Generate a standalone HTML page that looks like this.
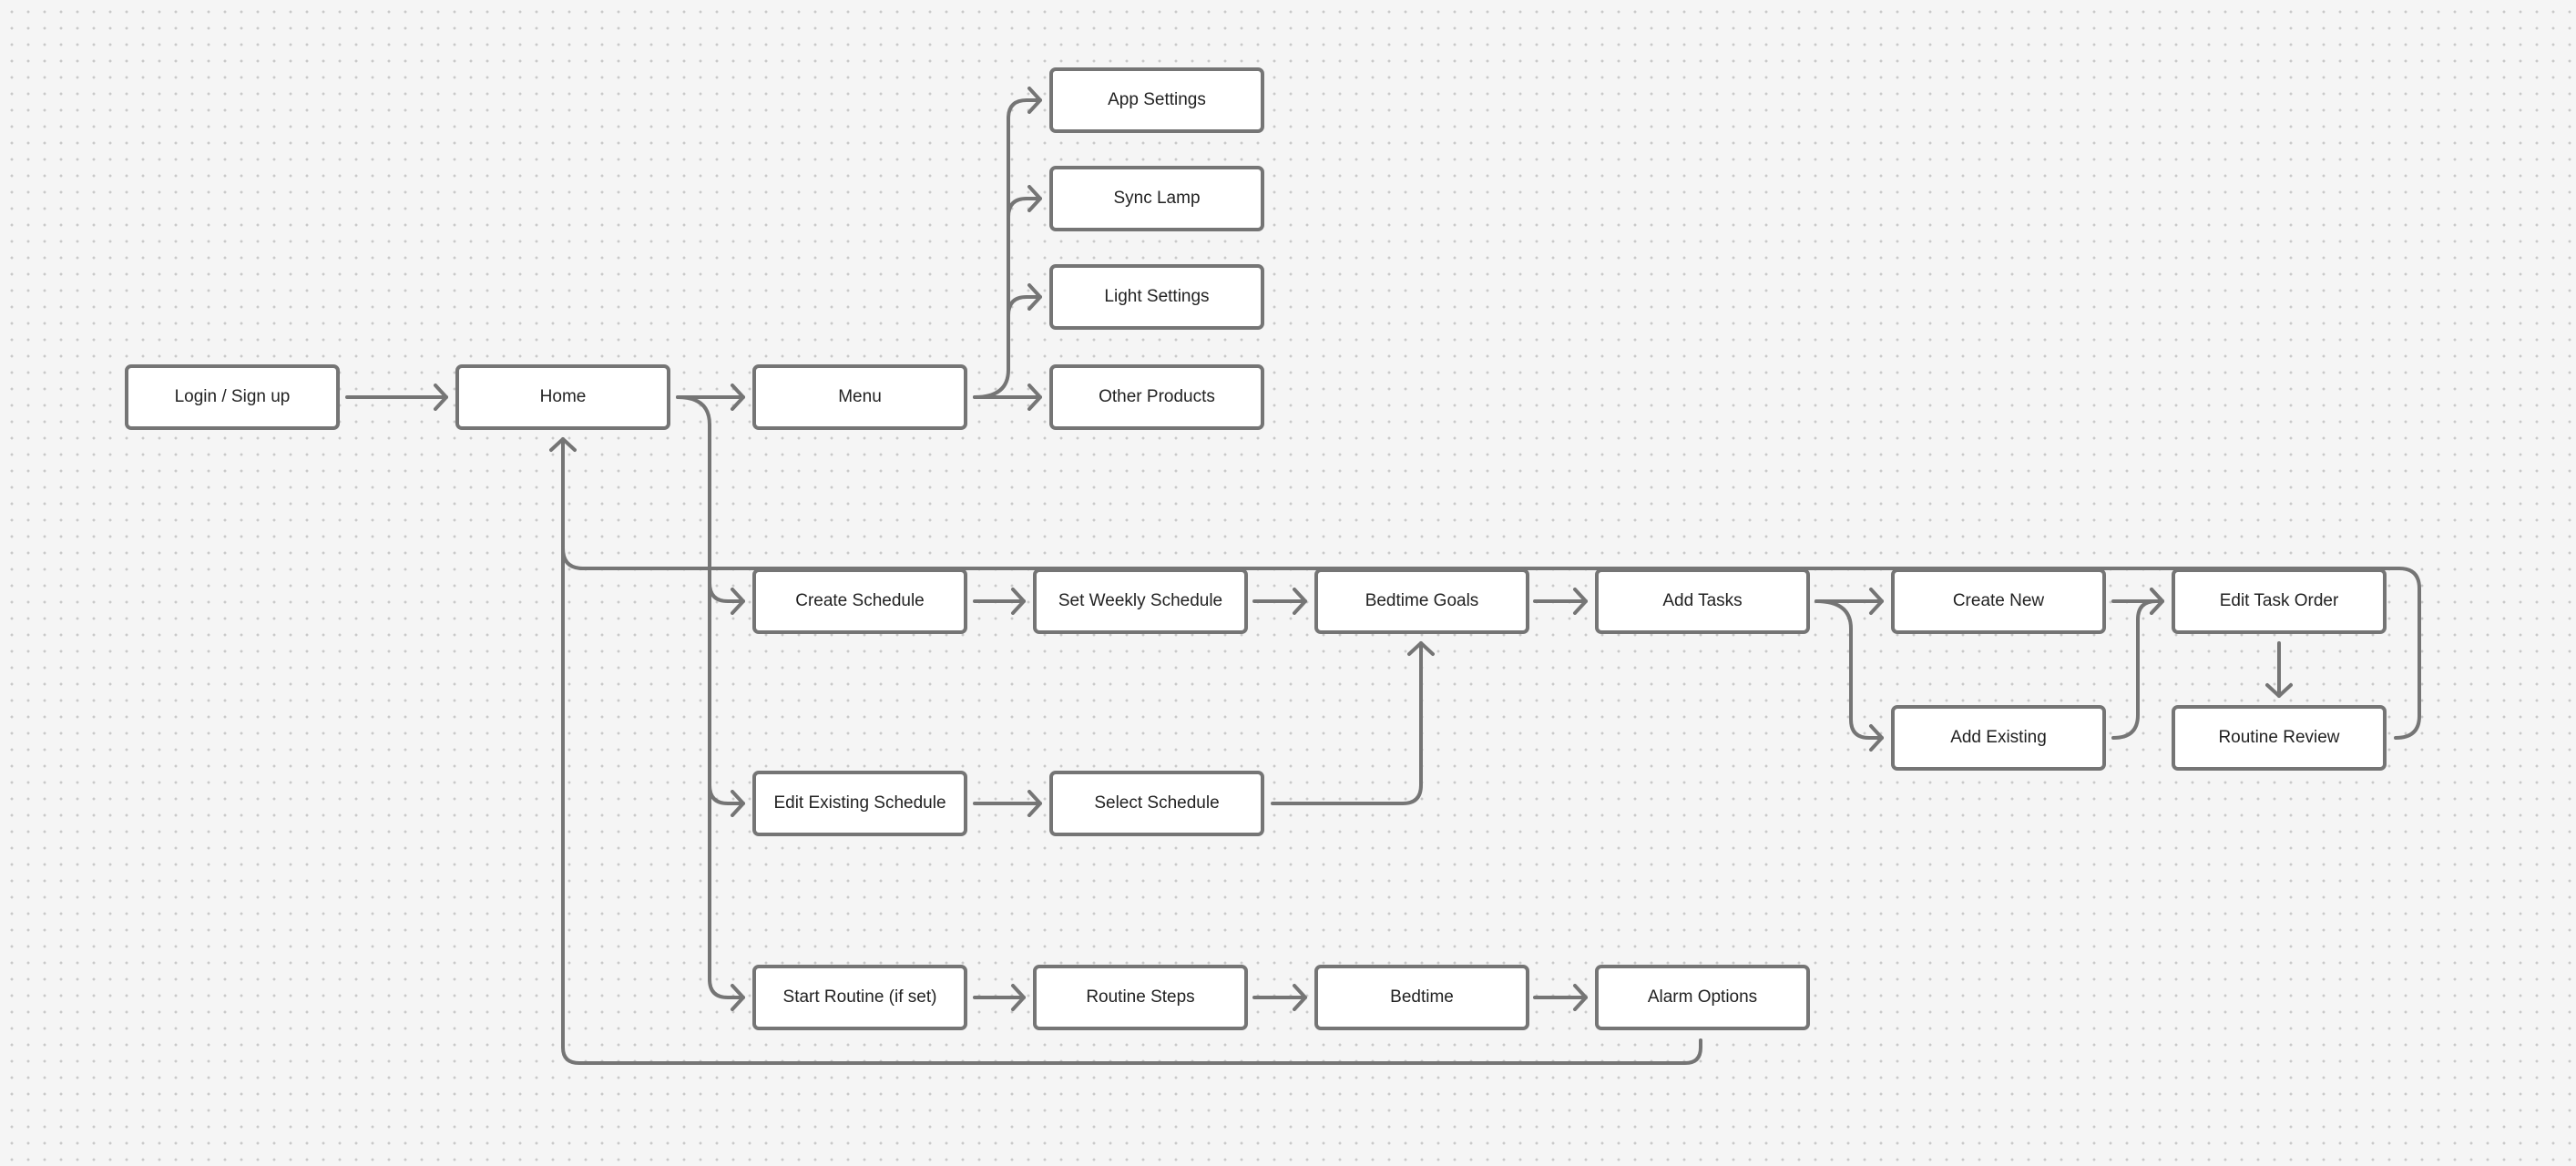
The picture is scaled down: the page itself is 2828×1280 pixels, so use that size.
<!DOCTYPE html>
<html><head><meta charset="utf-8"><style>
html,body{margin:0;padding:0}
body{width:2828px;height:1280px;background:#f5f5f5;background-image:radial-gradient(circle,#c9c9c9 1.3px,transparent 1.6px);background-size:18px 18px;background-position:4px 4px;position:relative;overflow:hidden;font-family:"Liberation Sans",sans-serif}
.b{position:absolute;width:228px;height:64px;border:4px solid #757575;border-radius:7px;background:#fff;display:flex;align-items:center;justify-content:center;font-size:19px;color:#222}
svg{position:absolute;left:0;top:0}
</style></head><body>
<svg width="2828" height="1280" fill="none" stroke="#757575" stroke-width="4" stroke-linecap="round" stroke-linejoin="round">
<defs><marker id="a" markerWidth="24" markerHeight="30" refX="20" refY="15" orient="auto" markerUnits="userSpaceOnUse"><path d="M8,2 L20,15 L8,28" fill="none" stroke="#757575" stroke-width="4" stroke-linecap="round" stroke-linejoin="round"/></marker></defs>
<path d="M381,436 H490" marker-end="url(#a)"/>
<path d="M744,436 H816" marker-end="url(#a)"/>
<path d="M744,436 Q779,436 779,466 V640 Q779,660 799,660 H816" marker-end="url(#a)"/>
<path d="M779,640 V862 Q779,882 799,882 H816" marker-end="url(#a)"/>
<path d="M779,862 V1075 Q779,1095 799,1095 H816" marker-end="url(#a)"/>
<path d="M1070,436 H1142" marker-end="url(#a)"/>
<path d="M1070,436 Q1107,436 1107,406 V130 Q1107,110 1127,110 H1142" marker-end="url(#a)"/>
<path d="M1107,238 Q1107,218 1127,218 H1142" marker-end="url(#a)"/>
<path d="M1107,346 Q1107,326 1127,326 H1142" marker-end="url(#a)"/>
<path d="M2630,810 Q2656,810 2656,786 V646 Q2656,624 2634,624 H640 Q618,624 618,602 V482" marker-end="url(#a)"/>
<path d="M1867,1142 V1150 Q1867,1167 1850,1167 H636 Q618,1167 618,1150 V600"/>
<path d="M1070,660 H1124" marker-end="url(#a)"/>
<path d="M1377,660 H1433" marker-end="url(#a)"/>
<path d="M1685,660 H1741" marker-end="url(#a)"/>
<path d="M1994,660 H2066" marker-end="url(#a)"/>
<path d="M1994,660 Q2032,660 2032,690 V790 Q2032,810 2052,810 H2066" marker-end="url(#a)"/>
<path d="M2320,660 H2374" marker-end="url(#a)"/>
<path d="M2320,810 Q2347,810 2347,785 V680 Q2347,660 2367,660 H2374" marker-end="url(#a)"/>
<path d="M2502,706 V764" marker-end="url(#a)"/>
<path d="M1070,882 H1142" marker-end="url(#a)"/>
<path d="M1397,882 H1540 Q1560,882 1560,862 V706" marker-end="url(#a)"/>
<path d="M1070,1095 H1124" marker-end="url(#a)"/>
<path d="M1377,1095 H1433" marker-end="url(#a)"/>
<path d="M1685,1095 H1741" marker-end="url(#a)"/>
</svg>
<div class="b" style="left:137px;top:400px">Login / Sign up</div>
<div class="b" style="left:500px;top:400px">Home</div>
<div class="b" style="left:826px;top:400px">Menu</div>
<div class="b" style="left:1152px;top:74px">App Settings</div>
<div class="b" style="left:1152px;top:182px">Sync Lamp</div>
<div class="b" style="left:1152px;top:290px">Light Settings</div>
<div class="b" style="left:1152px;top:400px">Other Products</div>
<div class="b" style="left:826px;top:624px">Create Schedule</div>
<div class="b" style="left:1134px;top:624px">Set Weekly Schedule</div>
<div class="b" style="left:1443px;top:624px">Bedtime Goals</div>
<div class="b" style="left:1751px;top:624px">Add Tasks</div>
<div class="b" style="left:2076px;top:624px">Create New</div>
<div class="b" style="left:2384px;top:624px">Edit Task Order</div>
<div class="b" style="left:2076px;top:774px">Add Existing</div>
<div class="b" style="left:2384px;top:774px">Routine Review</div>
<div class="b" style="left:826px;top:846px">Edit Existing Schedule</div>
<div class="b" style="left:1152px;top:846px">Select Schedule</div>
<div class="b" style="left:826px;top:1059px">Start Routine (if set)</div>
<div class="b" style="left:1134px;top:1059px">Routine Steps</div>
<div class="b" style="left:1443px;top:1059px">Bedtime</div>
<div class="b" style="left:1751px;top:1059px">Alarm Options</div>
</body></html>
